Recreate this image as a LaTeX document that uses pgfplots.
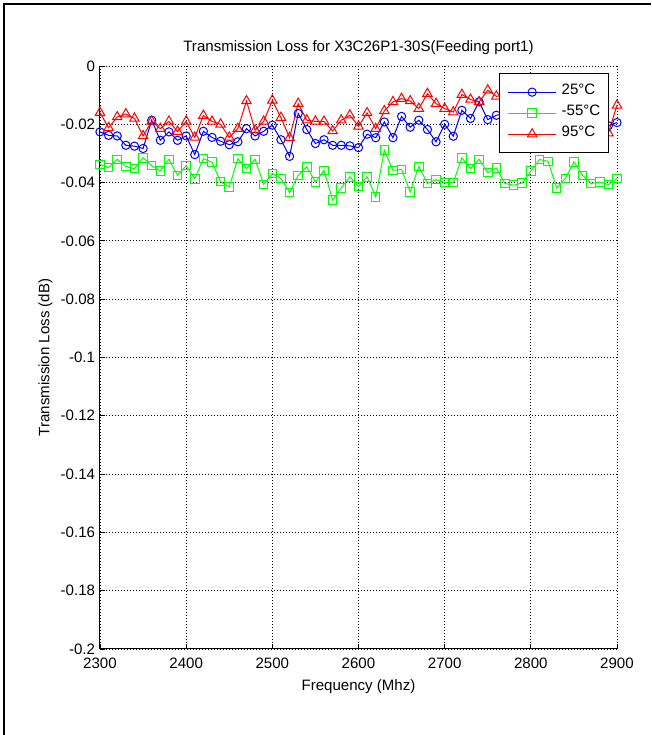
\documentclass[border=0pt]{standalone}
\usepackage{fontspec}
\setmainfont{Liberation Sans}
\usepackage{pgfplots}
\usepackage{pgfplotstable}
\pgfplotsset{compat=1.18}

\newcommand\fsz{\fontsize{11.3}{13.5}\selectfont}

% frequency (MHz), loss (dB) at 25C, -55C, 95C
\pgfplotstableread{
f     t25      tm55     t95
2300 -0.0226 -0.0338 -0.0160
2310 -0.0238 -0.0348 -0.0212
2320 -0.0240 -0.0320 -0.0175
2330 -0.0272 -0.0345 -0.0165
2340 -0.0275 -0.0352 -0.0180
2350 -0.0283 -0.0315 -0.0240
2360 -0.0186 -0.0342 -0.0190
2370 -0.0255 -0.0360 -0.0215
2380 -0.0226 -0.0320 -0.0190
2390 -0.0255 -0.0375 -0.0225
2400 -0.0240 -0.0342 -0.0190
2410 -0.0304 -0.0387 -0.0245
2420 -0.0224 -0.0318 -0.0170
2430 -0.0245 -0.0330 -0.0190
2440 -0.0258 -0.0397 -0.0200
2450 -0.0270 -0.0415 -0.0245
2460 -0.0260 -0.0318 -0.0215
2470 -0.0215 -0.0352 -0.0120
2480 -0.0240 -0.0320 -0.0220
2490 -0.0224 -0.0406 -0.0190
2500 -0.0203 -0.0369 -0.0118
2510 -0.0253 -0.0386 -0.0177
2520 -0.0310 -0.0434 -0.0246
2530 -0.0163 -0.0375 -0.0129
2540 -0.0218 -0.0346 -0.0186
2550 -0.0266 -0.0398 -0.0190
2560 -0.0253 -0.0358 -0.0190
2570 -0.0272 -0.0460 -0.0223
2580 -0.0272 -0.0418 -0.0186
2590 -0.0274 -0.0380 -0.0169
2600 -0.0280 -0.0413 -0.0207
2610 -0.0234 -0.0380 -0.0161
2620 -0.0246 -0.0449 -0.0215
2630 -0.0192 -0.0289 -0.0154
2640 -0.0246 -0.0358 -0.0123
2650 -0.0173 -0.0355 -0.0112
2660 -0.0210 -0.0432 -0.0120
2670 -0.0186 -0.0344 -0.0146
2680 -0.0218 -0.0403 -0.0095
2690 -0.0260 -0.0390 -0.0129
2700 -0.0200 -0.0400 -0.0146
2710 -0.0241 -0.0400 -0.0158
2720 -0.0152 -0.0315 -0.0098
2730 -0.0180 -0.0352 -0.0115
2740 -0.0123 -0.0320 -0.0123
2750 -0.0184 -0.0366 -0.0083
2760 -0.0169 -0.0350 -0.0104
2770 -0.0163 -0.0403 -0.0101
2780 -0.0180 -0.0409 -0.0120
2790 -0.0170 -0.0401 -0.0110
2800 -0.0190 -0.0361 -0.0130
2810 -0.0180 -0.0321 -0.0120
2820 -0.0165 -0.0327 -0.0105
2830 -0.0185 -0.0418 -0.0130
2840 -0.0175 -0.0386 -0.0120
2850 -0.0190 -0.0329 -0.0115
2860 -0.0180 -0.0375 -0.0130
2870 -0.0175 -0.0403 -0.0125
2880 -0.0190 -0.0398 -0.0140
2890 -0.0205 -0.0407 -0.0230
2900 -0.0194 -0.0386 -0.0135
}\losstable

\begin{document}
\begin{tikzpicture}
\fill[white] (-75pt,-64.5pt) rectangle (413.25pt,486.75pt);
\begin{axis}[
    scale only axis,
    width=387.75pt, height=437.25pt,
    xmin=2300, xmax=2900, ymin=-0.2, ymax=0,
    axis x line*=bottom, axis y line*=left,
    axis line style={black, line width=0.75pt},
    tick align=inside,
    major tick length=3.75pt,
    tick style={black, line width=0.6pt},
    xtick={2300,2400,2500,2600,2700,2800,2900},
    xticklabels={2300,2400,2500,2600,2700,2800,2900},
    ytick={-0.2,-0.18,-0.16,-0.14,-0.12,-0.1,-0.08,-0.06,-0.04,-0.02,0},
    yticklabels={-0.2,-0.18,-0.16,-0.14,-0.12,-0.1,-0.08,-0.06,-0.04,-0.02,0},
    scaled y ticks=false,
    grid=major,
    major grid style={black, line width=0.6pt, dash pattern=on 0.75pt off 1.5pt},
    tick label style={font=\fsz},
    xticklabel style={inner sep=2pt, yshift=-4.5pt},
    yticklabel style={inner sep=2pt, xshift=-1.5pt},
    title={Transmission Loss for X3C26P1-30S(Feeding port1)},
    title style={font=\fsz, at={(axis description cs:0.5,1)}, anchor=base, yshift=4.5pt},
    xlabel={Frequency (Mhz)},
    xlabel style={font=\fsz, at={(axis description cs:0.5,0)}, anchor=base, yshift=-31.5pt},
    ylabel={Transmission Loss (dB)},
    ylabel style={font=\fsz, at={(axis description cs:-0.1057,0.5)}, anchor=center},
    legend cell align=left,
    legend image code/.code={\draw[mark repeat=2,mark phase=2] plot coordinates {(0pt,0pt) (18pt,0pt) (36pt,0pt)};},
    legend style={at={(axis description cs:1,1)}, anchor=north east,
        xshift=-6pt, yshift=-5.25pt,
        draw=black, line width=1pt, fill=white, font=\fsz,
        inner xsep=6pt, inner ysep=6pt,
        row sep=0pt, column sep=3.75pt,
        nodes={inner sep=0pt, text height=10pt, text depth=5.75pt}},
]
\addplot[blue, line width=0.75pt, mark=o, mark size=3.1pt, mark options={solid}]
    table[x=f, y=t25] {\losstable};
\addlegendentry{25°C}
\addplot[green, line width=0.75pt, mark=square, mark size=3.2pt, mark options={solid}]
    table[x=f, y=tm55] {\losstable};
\addlegendentry{-55°C}
\addplot[red, line width=0.75pt, mark=triangle, mark size=4.1pt, mark options={solid}]
    table[x=f, y=t95] {\losstable};
\addlegendentry{95°C}
\end{axis}
\draw[black, line width=1.5pt] (-72pt,-64.5pt) -- (-72pt,483.75pt) -- (413.25pt,483.75pt);
\pgfresetboundingbox
\useasboundingbox (-75pt,-64.5pt) rectangle (413.25pt,486.75pt);
\end{tikzpicture}
\end{document}
